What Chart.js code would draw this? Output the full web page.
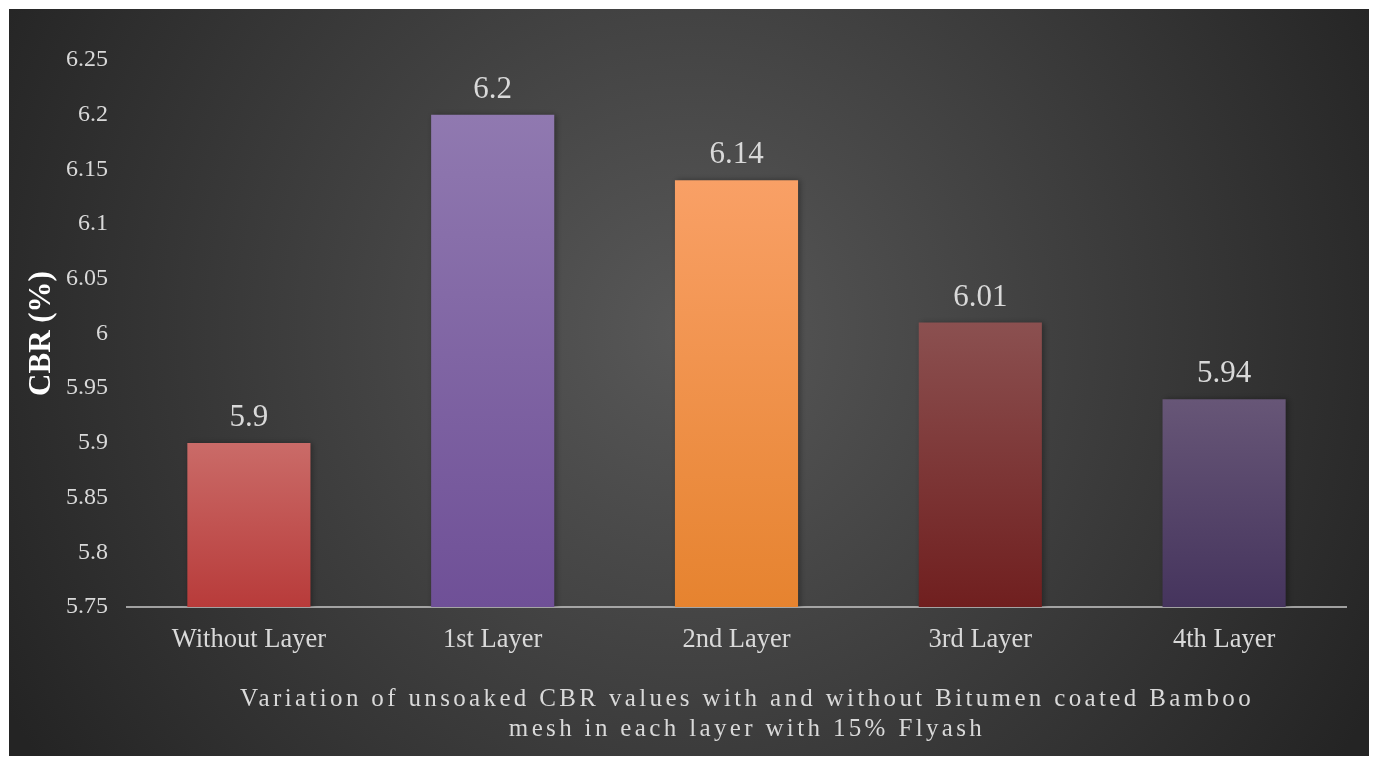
<!DOCTYPE html>
<html>
<head>
<meta charset="utf-8">
<script src="https://cdn.jsdelivr.net/npm/chart.js@4/dist/chart.umd.min.js"></script>
<style>
  html, body { margin: 0; padding: 0; background: #fff; }
  #wrap { width: 1378px; height: 765px; }
</style>
</head>
<body>
<div id="wrap"><canvas id="cbr-chart" width="1378" height="765"></canvas></div>
<script>
// chart data
const categories = ['Without Layer', '1st Layer', '2nd Layer', '3rd Layer', '4th Layer'];
const cbrValues = [5.9, 6.2, 6.14, 6.01, 5.94];
const yTicks = [5.75, 5.8, 5.85, 5.9, 5.95, 6, 6.05, 6.1, 6.15, 6.2, 6.25];
const titleLines = [
  'Variation of unsoaked CBR values with and without Bitumen coated Bamboo',
  'mesh in each layer with 15% Flyash'
];

// top / bottom colour of each bar's gradient
const barTop = ['#ca6b68', '#9079b0', '#f9a066', '#8b5050', '#675677'];
const barBottom = ['#b83b3a', '#6f5097', '#e6832f', '#701f1f', '#45345d'];

const serif = "'Liberation Serif', 'Times New Roman', serif";
const textColor = '#d9d9d9';

// dark radial background panel
const backgroundPlugin = {
  id: 'panel',
  beforeDraw(chart) {
    const ctx = chart.ctx;
    ctx.save();
    ctx.fillStyle = '#ffffff';
    ctx.fillRect(0, 0, chart.width, chart.height);
    const g = ctx.createRadialGradient(689, 330, 0, 689, 330, 780);
    g.addColorStop(0, '#585858');
    g.addColorStop(1, '#242424');
    ctx.fillStyle = g;
    ctx.fillRect(9, 9, 1360, 747);
    ctx.restore();
  }
};

// soft shadow behind the bars
const shadowPlugin = {
  id: 'barShadow',
  beforeDatasetsDraw(chart) {
    const ctx = chart.ctx;
    ctx.save();
    ctx.shadowColor = 'rgba(0,0,0,0.35)';
    ctx.shadowBlur = 6;
    ctx.shadowOffsetX = 2;
  },
  afterDatasetsDraw(chart) {
    chart.ctx.restore();
  }
};

// value labels on top of the bars + bottom title with letter spacing
const labelPlugin = {
  id: 'valueLabels',
  afterDraw(chart) {
    const ctx = chart.ctx;
    const meta = chart.getDatasetMeta(0);
    ctx.save();
    ctx.fillStyle = textColor;
    ctx.font = '31px ' + serif;
    ctx.textAlign = 'center';
    ctx.textBaseline = 'alphabetic';
    meta.data.forEach((bar, i) => {
      ctx.fillText(String(cbrValues[i]), bar.x, bar.y - 17);
    });

    ctx.font = '25px ' + serif;
    ctx.letterSpacing = '3.35px';
    ctx.fillText(titleLines[0], 747, 706);
    ctx.fillText(titleLines[1], 747, 736);
    ctx.restore();
  }
};

const ctx = document.getElementById('cbr-chart');

new Chart(ctx, {
  type: 'bar',
  data: {
    labels: categories,
    datasets: [{
      label: 'CBR (%)',
      data: cbrValues,
      borderWidth: 0,
      categoryPercentage: 1,
      barPercentage: 0.505,
      backgroundColor(context) {
        const chart = context.chart;
        const i = context.dataIndex;
        if (!chart.chartArea || i === undefined) return barBottom[i] || '#888';
        const y = chart.scales.y;
        const top = y.getPixelForValue(cbrValues[i]);
        const g = chart.ctx.createLinearGradient(0, top, 0, chart.chartArea.bottom);
        g.addColorStop(0, barTop[i]);
        g.addColorStop(1, barBottom[i]);
        return g;
      }
    }]
  },
  options: {
    responsive: false,
    animation: false,
    devicePixelRatio: 1,
    layout: { padding: { left: 9, top: 60, right: 32, bottom: 0 } },
    plugins: {
      legend: { display: false },
      tooltip: { enabled: false },
      title: { display: false }
    },
    scales: {
      x: {
        z: 1,
        grid: { display: false, drawTicks: false },
        border: { display: true, color: 'rgba(190,190,190,0.8)', width: 2 },
        ticks: {
          color: textColor,
          padding: 17,
          font: { family: serif, size: 26.5 }
        },
        afterFit(scale) { scale.height = 158; }
      },
      y: {
        min: 5.75,
        max: 6.25,
        afterBuildTicks(scale) {
          scale.ticks = yTicks.map(v => ({ value: v }));
        },
        grid: { display: false, drawTicks: false },
        border: { display: false },
        ticks: {
          color: textColor,
          padding: 19,
          font: { family: serif, size: 24 },
          callback: (v) => String(Math.round(v * 100) / 100)
        },
        title: {
          display: true,
          text: 'CBR (%)',
          color: '#ffffff',
          padding: { top: 14, bottom: 0 },
          font: { family: serif, size: 31, weight: 'bold' }
        },
        afterFit(scale) { scale.width = 118; }
      }
    }
  },
  plugins: [backgroundPlugin, shadowPlugin, labelPlugin]
});
</script>
</body>
</html>
